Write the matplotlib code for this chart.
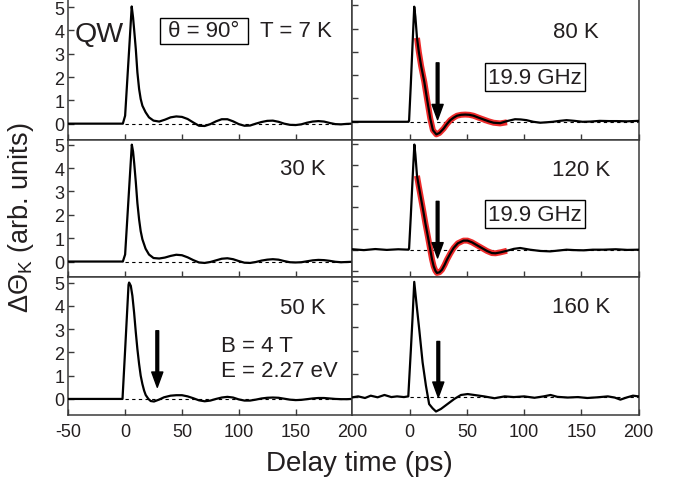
import matplotlib
matplotlib.use("Agg")
import matplotlib.pyplot as plt

plt.rcParams['font.family'] = ['Liberation Sans', 'DejaVu Sans']
plt.rcParams['mathtext.fontset'] = 'custom'
plt.rcParams['mathtext.rm'] = 'Liberation Sans'
plt.rcParams['mathtext.it'] = 'Liberation Sans:italic'
plt.rcParams['mathtext.bf'] = 'Liberation Sans:bold'
plt.rcParams['axes.unicode_minus'] = False

TXT = '#231f20'

# ---------------- data ----------------
# 7 K
t7 = [-50, -30, -10, -2, 0, 2, 4, 5.8, 7, 8, 9.4, 10.8, 12.3, 13.7, 15.2, 18, 21, 25, 30,
      35, 40, 45, 50, 55, 60, 65, 70, 75, 80, 85, 90, 95, 100, 105, 110, 115, 120,
      125, 130, 135, 140, 145, 150, 155, 160, 165, 170, 175, 180, 185, 190, 195, 200]
v7 = [0, 0, 0, 0, 0.34, 1.95, 3.55, 5.03, 4.55, 4.0, 3.2, 2.2, 1.49, 1.06, 0.77, 0.49, 0.27, 0.13,
      0.09,
      0.17, 0.27, 0.31, 0.29, 0.2, 0.05, -0.09, -0.1, -0.02, 0.1, 0.19, 0.19, 0.1, -0.02, -0.09,
      -0.08, 0.0, 0.07, 0.12, 0.13, 0.08, 0.0, -0.05, -0.06, -0.03, 0.04, 0.09, 0.11, 0.09, 0.03,
      -0.02, -0.03, -0.01, 0.0]

# 30 K
t30 = [-50, -30, -10, -2, 0, 2, 4, 5.9, 7, 8, 9.4, 10.8, 12.3, 13.7, 15.2, 18, 21, 25, 30,
       35, 40, 45, 50, 55, 60, 65, 70, 75, 80, 85, 90, 95, 100, 105, 110, 115, 120,
       125, 130, 135, 140, 145, 150, 155, 160, 165, 170, 175, 180, 185, 190, 195, 200]
v30 = [0, 0, 0, 0, 0.3, 1.9, 3.5, 5.0, 4.7, 4.2, 3.4, 2.5, 1.8, 1.3, 0.95, 0.55, 0.3, 0.15, 0.13,
       0.17, 0.24, 0.29, 0.27, 0.18, 0.06, -0.04, -0.06, -0.02, 0.05, 0.12, 0.14, 0.1, 0.02, -0.05,
       -0.06, -0.02, 0.04, 0.08, 0.1, 0.08, 0.02, -0.03, -0.04, -0.03, 0.01, 0.05, 0.07, 0.06, 0.03,
       -0.01, -0.03, -0.02, -0.01]

# 50 K
t50 = [-50, -30, -10, -2.3, 0, 1.5, 3, 3.5, 5, 6.4, 7.9, 9.4, 10.8, 12.3, 13.7, 15.2, 16.7, 18.1,
       20.5, 22.5, 25.4, 29.8, 34.2, 40, 45, 50, 55, 60, 65, 70, 75, 80, 85, 90, 95, 100, 105,
       110, 115, 120, 125, 130, 135, 140, 145, 150, 155, 160, 165, 170, 175, 180, 185, 190, 195,
       200]
v50 = [0, 0, 0, 0, 2.1, 3.5, 4.9, 5.0, 4.86, 4.43, 3.71, 2.86, 2.14, 1.5, 1.0, 0.64, 0.36, 0.17,
       0.0, -0.09, -0.11, -0.03, 0.07, 0.14, 0.16, 0.16, 0.11, 0.03, -0.06, -0.1, -0.07, 0.0, 0.06,
       0.09, 0.06, -0.02, -0.07, -0.07, -0.03, 0.02, 0.05, 0.06, 0.05, 0.01, -0.03, -0.05, -0.04,
       -0.01, 0.02, 0.04, 0.04, 0.02, 0.0, -0.01, -0.01, 0.0]

# 80 K
t80 = [-50, -30, -10, -1, -0.5, 1, 2.5, 4, 5, 6.4, 8, 10, 12.8, 15.1, 18, 20.3, 23.3, 26, 29.7,
       32.5, 35.5, 38.5, 41.3, 45, 48.5, 52, 55.8, 60, 64.5, 69, 73.3, 79, 85, 92, 97, 102, 108,
       114, 120, 125, 131, 137, 144, 151, 158, 166, 174, 181, 190, 200]
v80 = [0, 0, 0, 0, 0.05, 1.6, 3.3, 4.94, 4.5, 3.6, 3.0, 2.4, 1.71, 1.0, 0.14, -0.36, -0.54, -0.48,
       -0.29, -0.1, 0.07, 0.18, 0.26, 0.3, 0.31, 0.3, 0.26, 0.18, 0.1, 0.02, -0.04, -0.06, 0.03,
       0.11, 0.1, 0.07, 0.0, -0.04, -0.02, 0.0, 0.04, 0.07, 0.04, 0.0, 0.01, 0.04, 0.03, 0.03,
       0.02, 0.04]
fit80_t = [6.4, 8, 10, 12.8, 15.1, 18, 20.3, 23.3, 26, 29.7, 32.5, 35.5, 38.5, 41.3, 45, 48.5,
           52, 55.8, 60, 64.5, 69, 73.3, 79, 85]
fit80_v = [3.6, 3.0, 2.4, 1.71, 1.0, 0.14, -0.36, -0.54, -0.48, -0.29, -0.1, 0.07, 0.18, 0.26,
           0.3, 0.31, 0.3, 0.26, 0.18, 0.1, 0.02, -0.04, -0.07, -0.02]

# 120 K
t120 = [-50, -40, -30, -20, -10, -1, -0.5, 1, 2.5, 4.1, 5, 6.4, 8, 10, 12, 13.7, 16, 18, 19.5, 21,
        22.5, 23.8, 26, 28.2, 30.5, 32.6, 35.5, 38.4, 42, 47, 50.5, 54.4, 58.5, 63, 67.5, 71.8,
        75, 79, 85, 91, 96.5, 105, 114, 122.7, 130, 137, 144, 151.7, 160, 169, 180, 190, 200]
v120 = [0.02, -0.02, 0.03, -0.01, 0.02, 0, 0.05, 1.6, 3.3, 4.98, 4.5, 3.5, 3.0, 2.4, 1.8, 1.26,
        0.6, 0.0, -0.45, -0.79, -1.0, -1.1, -1.07, -0.95, -0.72, -0.47, -0.18, 0.08, 0.3, 0.43,
        0.43, 0.35, 0.22, 0.08, -0.06, -0.16, -0.17, -0.13, -0.05, 0.04, 0.08, 0.0, -0.06, -0.08,
        -0.04, 0.0, -0.02, -0.03, 0.0, 0.0, 0.02, -0.01, 0.0]
fit120_t = [6.4, 8, 10, 12, 13.7, 16, 18, 19.5, 21, 22.5, 23.8, 26, 28.2, 30.5, 32.6, 35.5, 38.4,
            42, 47, 50.5, 54.4, 58.5, 63, 67.5, 71.8, 75, 79, 85]
fit120_v = [3.5, 3.0, 2.4, 1.8, 1.26, 0.6, 0.0, -0.45, -0.79, -1.0, -1.1, -1.07, -0.95, -0.72,
            -0.47, -0.18, 0.08, 0.3, 0.43, 0.43, 0.35, 0.22, 0.08, -0.06, -0.16, -0.17, -0.13,
            -0.05]

# 160 K
t160 = [-50, -45, -39, -34, -28, -22, -16, -11, -5, -1.2, 1, 2.5, 4, 6, 8.4, 11.3, 14.2, 17, 20,
        23, 27.3, 33, 39, 44.8, 50.6, 56.4, 65, 74, 83, 91, 100, 109, 117, 123, 129, 138, 147,
        155, 164, 173, 179, 184, 190, 195, 200]
v160 = [0.0, 0.04, -0.03, 0.07, 0.0, 0.1, 0.01, 0.04, 0.01, 0.04, 2.0, 3.4, 4.96, 4.0, 2.9, 1.5,
        0.5, -0.29, -0.47, -0.61, -0.5, -0.29, -0.07, 0.1, 0.14, 0.1, 0.04, -0.04, 0.04, 0.01,
        0.04, -0.02, 0.04, 0.1, 0.02, -0.01, 0.01, -0.03, 0.0, 0.04, -0.01, -0.1, 0.0, 0.07, 0.04]

temps = ['T = 7 K', '30 K', '50 K', '80 K', '120 K', '160 K']
freq_label = '19.9 GHz'
xticks_left = [-50, 0, 50, 100, 150, 200]
xticks_right = [0, 50, 100, 150, 200]
yticks = [0, 1, 2, 3, 4, 5]
yticks_mr = [-1, 0, 1, 2, 3, 4, 5]

# ---------------- layout ----------------
W, H = 679, 485
fig = plt.figure(figsize=(W / 100, H / 100), dpi=100)

cols = [(68.3, 352.4), (352.4, 638.7)]
rows = [(0, 140.5), (140.5, 277.5), (277.5, 416)]


def make_ax(r, c):
    x0, x1 = cols[c]
    y0, y1 = rows[r]
    return fig.add_axes([x0 / W, 1 - y1 / H, (x1 - x0) / W, (y1 - y0) / H])


SP = '#3a3a3a'


def style(ax, left, bottom, ylim, yt):
    ax.set_xlim(-50, 200)
    ax.set_ylim(*ylim)
    for s in ax.spines.values():
        s.set_color(SP)
        s.set_linewidth(1.1)
    ax.set_xticks(xticks_left if left else xticks_right)
    ax.set_yticks(yt)
    ax.tick_params(direction='in', length=4, width=1, color=SP, labelcolor=TXT,
                   labelsize=13, top=False, right=False)
    ax.tick_params(axis='x', pad=6)
    ax.tick_params(axis='y', pad=3)
    if not bottom:
        ax.set_xticklabels([])
    if not left:
        ax.set_yticklabels([])


def curve(ax, t, v, fit_t=None, fit_v=None):
    ax.plot([0, 200], [0, 0], color='black', lw=0.8, ls=(0, (3, 3)), zorder=2)
    if fit_t is not None:
        ax.plot(fit_t, fit_v, color='#ee2a2a', lw=4.3, solid_capstyle='butt', zorder=3)
    ax.plot(t, v, color='black', lw=1.6, zorder=4)


def arrow(ax, x, ytail, ytip):
    ax.annotate('', xy=(x, ytip), xytext=(x, ytail),
                arrowprops=dict(facecolor='black', edgecolor='black', width=2.0,
                                headwidth=8, headlength=11, shrink=0), zorder=5)


def label(ax, x, y, s, ha='right', size=16):
    ax.text(x, y, s, ha=ha, va='center', fontsize=size, color=TXT, zorder=6)


def boxed(ax, x, y, s, pad=0.15):
    ax.text(x, y, s, ha='center', va='center', fontsize=16, color=TXT, zorder=6,
            bbox=dict(boxstyle='square,pad=%g' % pad, fc='white', ec='black', lw=1))


# top-left 7 K
ax = make_ax(0, 0)
style(ax, True, False, (-0.68, 5.35), yticks)
curve(ax, t7, v7)
ax.text(-44, 3.55, 'QW', ha='left', va='baseline', fontsize=20.5, color=TXT)
boxed(ax, 69, 3.98, ' θ = 90° ', pad=0.1)
label(ax, 182, 3.98, temps[0])

# middle-left 30 K
ax = make_ax(1, 0)
style(ax, True, False, (-0.64, 5.22), yticks)
curve(ax, t30, v30)
label(ax, 176.6, 3.98, temps[1])

# bottom-left 50 K
ax = make_ax(2, 0)
style(ax, True, True, (-0.69, 5.26), yticks)
curve(ax, t50, v50)
label(ax, 176.6, 3.93, temps[2])
label(ax, 84.6, 2.29, 'B = 4 T', ha='left')
label(ax, 84.6, 1.21, 'E = 2.27 eV', ha='left')
arrow(ax, 28.3, 2.93, 0.5)

# top-right 80 K
ax = make_ax(0, 1)
style(ax, False, False, (-0.76, 5.27), yticks)
curve(ax, t80, v80, fit80_t, fit80_v)
label(ax, 165, 3.87, temps[3])
boxed(ax, 109.4, 1.91, freq_label)
arrow(ax, 24.4, 2.53, 0.09)

# middle-right 120 K
ax = make_ax(1, 1)
style(ax, False, False, (-1.27, 5.22), yticks_mr)
curve(ax, t120, v120, fit120_t, fit120_v)
label(ax, 175, 3.79, temps[4])
boxed(ax, 109.4, 1.69, freq_label)
arrow(ax, 24.4, 2.29, -0.39)

# bottom-right 160 K
ax = make_ax(2, 1)
style(ax, False, True, (-0.76, 5.19), yticks)
curve(ax, t160, v160)
label(ax, 175, 3.9, temps[5])
arrow(ax, 25, 2.4, 0.0)

fig.text(359 / W, 1 - 464 / H, 'Delay time (ps)', ha='center', va='center',
         fontsize=20, color=TXT)
fig.text(21 / W, 1 - 218 / H, r'ΔΘ$_\mathrm{K}$ (arb. units)', ha='center', va='center',
         rotation=90, fontsize=19.5, color=TXT)

fig.savefig('out.png', dpi=100)
